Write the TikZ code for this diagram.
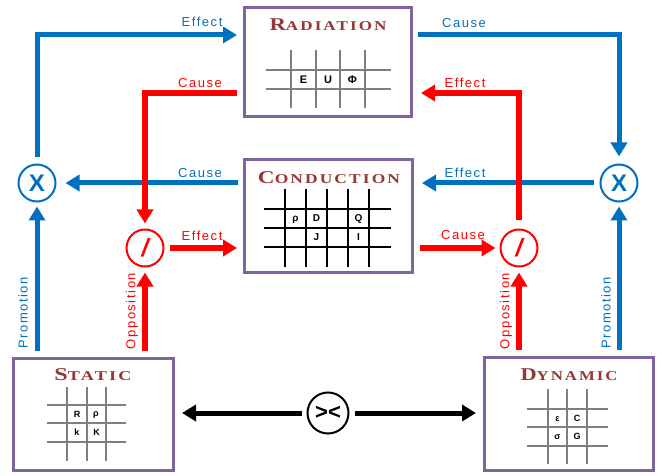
\documentclass[tikz,border=0pt]{standalone}
\usepackage{fontspec}
\usepackage{graphicx}
\newfontfamily\labfont{Liberation Sans}[LetterSpace=12]
\newfontfamily\symfont{Liberation Sans}
\newfontfamily\titlefont{Liberation Serif}[LetterSpace=12]
\newcommand\mytitle[3]{\resizebox{#3pt}{\height}{\titlefont\bfseries{\fontsize{18}{18}\selectfont #1}{\fontsize{13.5}{13.5}\selectfont #2}}}
\usetikzlibrary{arrows.meta}
\definecolor{myblue}{HTML}{0070C0}
\definecolor{myred}{HTML}{FF0000}
\definecolor{mypurple}{HTML}{8064A2}
\definecolor{titlered}{HTML}{953735}
\definecolor{gridgray}{HTML}{7F7F7F}
\tikzset{
  box/.style={draw=mypurple,line width=3pt,fill=white,inner sep=0pt},
  ttl/.style={text=titlered,anchor=base,inner sep=0pt},
  tip/.style={-{Triangle[length=14pt,width=16pt]}},
  bl/.style={draw=myblue,line width=5pt},
  rl/.style={draw=myred,line width=5.5pt},
  kl/.style={draw=black,line width=5pt},
  circ/.style={circle,line width=2pt,fill=white,inner sep=0pt},
  blab/.style={text=myblue,inner sep=0pt,font=\labfont\fontsize{13}{13}\selectfont},
  rlab/.style={text=myred,inner sep=0pt,font=\labfont\fontsize{13}{13}\selectfont},
  glet/.style={inner sep=0pt,font=\symfont\bfseries\fontsize{10}{10}\selectfont},
  gridk/.style={draw=black,line width=1.5pt},
  gridg/.style={draw=gridgray,line width=1.5pt},
}
\begin{document}
\begin{tikzpicture}[x=1pt,y=-1pt]
\useasboundingbox (0,0) rectangle (662,476);
\fill[white] (0,0) rectangle (662,476);

% boxes
\node[box,minimum width=167pt,minimum height=109pt] (rad) at (328,62) {};
\node[box,minimum width=168pt,minimum height=113pt] (cond) at (328.5,216) {};
\node[box,minimum width=160pt,minimum height=112pt] (st) at (93.5,414.5) {};
\node[box,minimum width=169pt,minimum height=113pt] (dy) at (569,414) {};

% titles
\node[ttl] (tRad) at (328,30.7) {\mytitle{R}{ADIATION}{117}};
\node[ttl] (tCond) at (329,183.3) {\mytitle{C}{ONDUCTION}{142}};
\node[ttl] (tSt) at (93,380.7) {\mytitle{S}{TATIC}{77}};
\node[ttl] (tDy) at (569,380.7) {\mytitle{D}{YNAMIC}{97}};

% radiation grid
\foreach \yy in {70,89} \draw[gridg,line width=2pt] (266,\yy) -- (391,\yy);
\foreach \xx in {291,316,340,365} \draw[gridg,line width=2pt] (\xx,50) -- (\xx,108);
\node[glet,font=\symfont\bfseries\fontsize{11}{11}\selectfont] (rE) at (303.5,79.5) {E};
\node[glet,font=\symfont\bfseries\fontsize{11}{11}\selectfont] (rU) at (328,79.5) {U};
\node[glet,font=\symfont\bfseries\fontsize{11}{11}\selectfont] (rP) at (352.5,79.5) {Φ};

% conduction grid
\foreach \yy in {209,228,247} \draw[gridk] (264,\yy) -- (391,\yy);
\foreach \xx in {285,306,327,348,369} \draw[gridk] (\xx,189) -- (\xx,267);
\node[glet] (cRho) at (295.5,220) {ρ};
\node[glet] (cD) at (316.5,218.5) {D};
\node[glet] (cQ) at (358.5,218.5) {Q};
\node[glet] (cJ) at (316.5,237.5) {J};
\node[glet] (cI) at (358.5,237.5) {I};

% static grid
\foreach \yy in {405,423,442} \draw[gridg] (47,\yy) -- (126,\yy);
\foreach \xx in {67,87,106} \draw[gridg] (\xx,387) -- (\xx,461);
\node[glet,font=\symfont\bfseries\fontsize{9}{9}\selectfont] (sR) at (77,414) {R};
\node[glet,font=\symfont\bfseries\fontsize{9}{9}\selectfont] (sRho) at (96,415) {ρ};
\node[glet,font=\symfont\bfseries\fontsize{9}{9}\selectfont] (sk) at (77,432.5) {k};
\node[glet,font=\symfont\bfseries\fontsize{9}{9}\selectfont] (sK) at (96.5,432.5) {K};

% dynamic grid
\foreach \yy in {409,427,446} \draw[gridg] (527,\yy) -- (608,\yy);
\foreach \xx in {548,567,587} \draw[gridg] (\xx,389) -- (\xx,464);
\node[glet,font=\symfont\bfseries\fontsize{9}{9}\selectfont] (dE) at (557.5,419) {ε};
\node[glet,font=\symfont\bfseries\fontsize{9}{9}\selectfont] (dC) at (577,418) {C};
\node[glet,font=\symfont\bfseries\fontsize{9}{9}\selectfont] (dS) at (557.5,437) {σ};
\node[glet,font=\symfont\bfseries\fontsize{9}{9}\selectfont] (dG) at (577,436.5) {G};

% operator circles
\node[circ,draw=myblue,minimum size=37pt,text=myblue,font=\symfont\bfseries\fontsize{24}{24}\selectfont] (lx) at (37,183) {X};
\node[circ,draw=myblue,minimum size=37pt,text=myblue,font=\symfont\bfseries\fontsize{24}{24}\selectfont] (rx) at (619,183) {X};
\node[circ,draw=myred,minimum size=37pt,text=myred,font=\symfont\bfseries\itshape\fontsize{25}{25}\selectfont] (ls) at (145,248) {/};
\node[circ,draw=myred,minimum size=37pt,text=myred,font=\symfont\bfseries\itshape\fontsize{25}{25}\selectfont] (rs) at (519,248) {/};
\node[circ,draw=black,minimum size=41pt,text=black,font=\symfont\bfseries\fontsize{22}{22}\selectfont] (bc) at (328,413) {><};

% blue connectors
\draw[bl,tip,shorten <=6pt,shorten >=6pt] (lx.north) |- (rad.west |- 0,35);
\draw[bl,tip,shorten <=5pt,shorten >=7pt] (rad.east |- 0,35) -| (rx.north);
\draw[bl,tip,shorten <=5pt,shorten >=9pt] (cond.west |- lx) -- (lx.east);
\draw[bl,tip,shorten <=6pt,shorten >=8pt] (rx.west) -- (cond.east |- rx);
\draw[bl,tip,shorten <=6pt,shorten >=4pt] (st.north -| lx) -- (lx.south);
\draw[bl,tip,shorten <=6pt,shorten >=4pt] (dy.north -| rx) -- (rx.south);

% red connectors
\draw[rl,tip,shorten <=6pt,shorten >=5pt] (rad.west |- 0,93) -| (ls.north);
\draw[rl,tip,shorten <=8pt,shorten >=8pt] (rs.north) |- (rad.east |- 0,93);
\draw[rl,tip,shorten <=5pt,shorten >=6pt] (ls.east) -- (cond.west |- ls);
\draw[rl,tip,shorten <=6pt,shorten >=4pt] (cond.east |- rs) -- (rs.west);
\draw[rl,tip,shorten <=6pt,shorten >=5pt] (st.north -| ls) -- (ls.south);
\draw[rl,tip,shorten <=6pt,shorten >=5pt] (dy.north -| rs) -- (rs.south);

% black connectors
\draw[kl,tip,shorten <=5pt,shorten >=7pt] (bc.west) -- (st.east |- bc);
\draw[kl,tip,shorten <=5pt,shorten >=7pt] (bc.east) -- (dy.west |- bc);

% labels
\node[blab] (l1) at (202,22) {Effect};
\node[blab] (l2) at (464,23) {Cause};
\node[rlab] (l3) at (200,83) {Cause};
\node[rlab] (l4) at (465,83) {Effect};
\node[blab] (l5) at (200,173) {Cause};
\node[blab] (l6) at (465,173) {Effect};
\node[rlab] (l7) at (202,236) {Effect};
\node[rlab] (l8) at (463,235) {Cause};
\node[blab,rotate=90] (l9) at (23,313) {Promotion};
\node[rlab,rotate=90] (l10) at (132,311) {Opposition};
\node[rlab,rotate=90] (l11) at (506,311) {Opposition};
\node[blab,rotate=90] (l12) at (606,313) {Promotion};
\end{tikzpicture}
\end{document}
